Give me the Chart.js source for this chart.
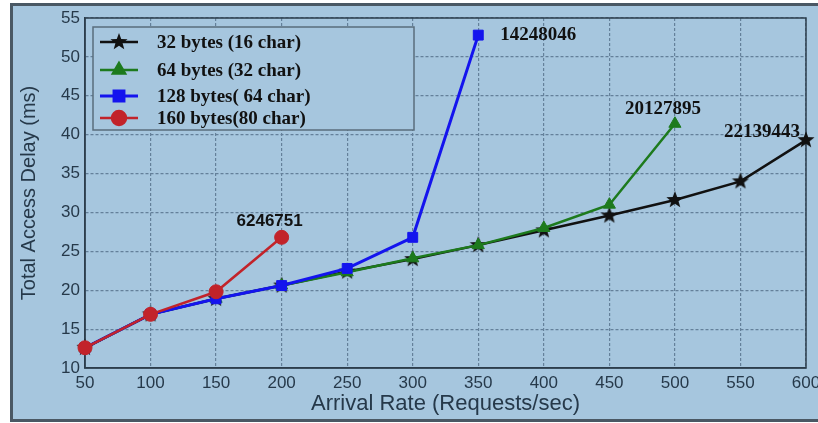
<!DOCTYPE html>
<html>
<head>
<meta charset="utf-8">
<script src="https://cdn.jsdelivr.net/npm/chart.js@4.4.1/dist/chart.umd.min.js"></script>
<style>
  html, body { margin: 0; padding: 0; background: #fff; }
  #wrap { width: 818px; height: 423px; }
</style>
</head>
<body>
<div id="wrap"><canvas id="delayChart" width="818" height="423"></canvas></div>
<script>
// arrival rate (requests/sec) on the x axis
const arrivalRates = [50, 100, 150, 200, 250, 300, 350, 400, 450, 500, 550, 600];

// total access delay (ms) per message size
const delay32 = [12.6, 16.9, 18.9, 20.6, 22.4, 24.0, 25.8, 27.7, 29.6, 31.6, 34.0, 39.3];
const delay64 = [12.6, 16.9, 18.9, 20.6, 22.3, 24.1, 25.8, 28.0, 31.0, 41.4];
const delay128 = [12.6, 16.9, 18.9, 20.6, 22.8, 26.8, 52.8];
const delay160 = [12.6, 16.9, 19.8, 26.8];

const seriesNames = ['32 bytes (16 char)', '64 bytes (32 char)', '128 bytes( 64 char)', '160 bytes(80 char)'];
const endLabels = ['22139443', '20127895', '14248046', '6246751'];

const yTickMin = 10, yTickMax = 55, yTickStep = 5;
const xTickMin = 50, xTickMax = 600, xTickStep = 50;

const BG = '#a6c6de';
const TEXT = '#26394a';
const GRID = '#64809a';

function starImage(r, color) {
    const c = document.createElement('canvas');
    const s = Math.ceil(r * 2 + 2);
    c.width = s; c.height = s;
    const g = c.getContext('2d');
    g.fillStyle = color;
    g.beginPath();
    for (let i = 0; i < 10; i++) {
        const a = -Math.PI / 2 + i * Math.PI / 5;
        const rr = i % 2 ? r * 0.42 : r;
        g.lineTo(s / 2 + rr * Math.cos(a), s / 2 + rr * Math.sin(a));
    }
    g.closePath();
    g.fill();
    return c;
}

const toPoints = (vals) => vals.map((v, i) => ({ x: arrivalRates[i], y: v }));

const series = [
    { values: delay32, color: '#111111', style: starImage(9, '#111111'), radius: 9, width: 2.5, order: 3 },
    { values: delay64, color: '#1d7a1d', style: 'triangle', radius: 7, width: 2.5, order: 2 },
    { values: delay128, color: '#1414ee', style: 'rect', radius: 7, width: 3, order: 1 },
    { values: delay160, color: '#c2232a', style: 'circle', radius: 7, width: 2.5, order: 0 }
];

// label offsets next to the last point of each line
const endLabelPlacement = [
    { dx: -6, dy: -8, align: 'right', font: 'bold 19px "Liberation Serif"' },
    { dx: -12, dy: -15, align: 'center', font: 'bold 19px "Liberation Serif"' },
    { dx: 22, dy: 0, align: 'left', font: 'bold 19px "Liberation Serif"' },
    { dx: -12, dy: -16, align: 'center', font: 'bold 17px "Liberation Sans"' }
];

const framePlugin = {
    id: 'frame',
    beforeDraw(chart) {
        const ctx = chart.ctx;
        ctx.save();
        ctx.fillStyle = '#ffffff';
        ctx.fillRect(0, 0, chart.width, chart.height);
        ctx.fillStyle = BG;
        ctx.fillRect(10, 3, chart.width - 10, 419);
        ctx.strokeStyle = '#4a5864';
        ctx.lineWidth = 3;
        ctx.strokeRect(11.5, 4.5, chart.width, 416);
        ctx.restore();
    },
    beforeDatasetsDraw(chart) {
        const { ctx, chartArea: a } = chart;
        ctx.save();
        ctx.strokeStyle = '#2c3e4c';
        ctx.lineWidth = 1.5;
        ctx.strokeRect(a.left, a.top, a.right - a.left, a.bottom - a.top);
        ctx.restore();
    }
};

function drawMarker(ctx, s, x, y) {
    if (s.style instanceof HTMLCanvasElement) {
        ctx.drawImage(s.style, x - s.style.width / 2, y - s.style.height / 2);
        return;
    }
    ctx.fillStyle = s.color;
    ctx.strokeStyle = s.color;
    Chart.helpers.drawPoint(ctx, { pointStyle: s.style, radius: s.radius, rotation: 0, borderWidth: 1 }, x, y);
}

const legendPlugin = {
    id: 'boxLegend',
    afterDraw(chart) {
        const ctx = chart.ctx;
        const rows = [42, 70, 96, 118];
        ctx.save();
        ctx.fillStyle = BG;
        ctx.fillRect(93, 27, 321, 103);
        ctx.strokeStyle = '#5a6d7c';
        ctx.lineWidth = 1.5;
        ctx.strokeRect(93, 27, 321, 103);
        series.forEach((s, i) => {
            const y = rows[i];
            ctx.strokeStyle = s.color;
            ctx.lineWidth = s.width;
            ctx.beginPath();
            ctx.moveTo(100, y);
            ctx.lineTo(138, y);
            ctx.stroke();
            drawMarker(ctx, s, 119, y);
            ctx.fillStyle = '#111';
            ctx.font = 'bold 19px "Liberation Serif"';
            ctx.textBaseline = 'middle';
            ctx.textAlign = 'left';
            ctx.fillText(seriesNames[i], 157, y + 1);
        });
        ctx.restore();
    },
    afterDatasetsDraw(chart) {
        const ctx = chart.ctx;
        ctx.save();
        ctx.fillStyle = '#111';
        ctx.textBaseline = 'middle';
        chart.data.datasets.forEach((ds, i) => {
            const meta = chart.getDatasetMeta(i);
            const last = meta.data[meta.data.length - 1];
            const p = endLabelPlacement[i];
            ctx.font = p.font;
            ctx.textAlign = p.align;
            ctx.fillText(endLabels[i], last.x + p.dx, last.y + p.dy);
        });
        ctx.restore();
    }
};

const ctx = document.getElementById('delayChart').getContext('2d');
new Chart(ctx, {
    type: 'line',
    data: {
        datasets: series.map((s, i) => ({
            label: seriesNames[i],
            data: toPoints(s.values),
            borderColor: s.color,
            backgroundColor: s.color,
            borderWidth: s.width,
            pointStyle: s.style,
            pointRadius: s.radius,
            pointBorderWidth: 1,
            tension: 0,
            clip: false,
            order: s.order
        }))
    },
    options: {
        responsive: false,
        animation: false,
        devicePixelRatio: 1,
        layout: { padding: { left: 12, top: 18, right: 12, bottom: 0 } },
        plugins: { legend: { display: false }, tooltip: { enabled: false } },
        scales: {
            x: {
                type: 'linear',
                min: xTickMin, max: xTickMax,
                ticks: { stepSize: xTickStep, color: TEXT, padding: 5, font: { family: 'Liberation Sans', size: 17 } },
                grid: { color: GRID, lineWidth: 1.2, drawTicks: false, borderDash: [3, 2] },
                border: { color: '#2c3e4c', width: 1.5, dash: [3, 2] },
                title: { display: true, text: 'Arrival Rate (Requests/sec)', color: TEXT, font: { family: 'Liberation Sans', size: 22 }, padding: { top: 0, bottom: 6 } },
                afterFit(s) { s.height = 55; s.paddingLeft = 0; s.paddingRight = 0; }
            },
            y: {
                min: yTickMin, max: yTickMax,
                ticks: { stepSize: yTickStep, color: TEXT, padding: 5, font: { family: 'Liberation Sans', size: 17 } },
                grid: { color: GRID, lineWidth: 1.2, drawTicks: false, borderDash: [3, 2] },
                border: { color: '#2c3e4c', width: 1.5, dash: [3, 2] },
                title: { display: true, text: 'Total Access Delay (ms)', color: TEXT, font: { family: 'Liberation Sans', size: 20 }, padding: { top: 5, bottom: 0 } },
                afterFit(s) { s.width = 73; s.paddingTop = 0; s.paddingBottom = 0; }
            }
        }
    },
    plugins: [framePlugin, legendPlugin]
});
</script>
</body>
</html>
